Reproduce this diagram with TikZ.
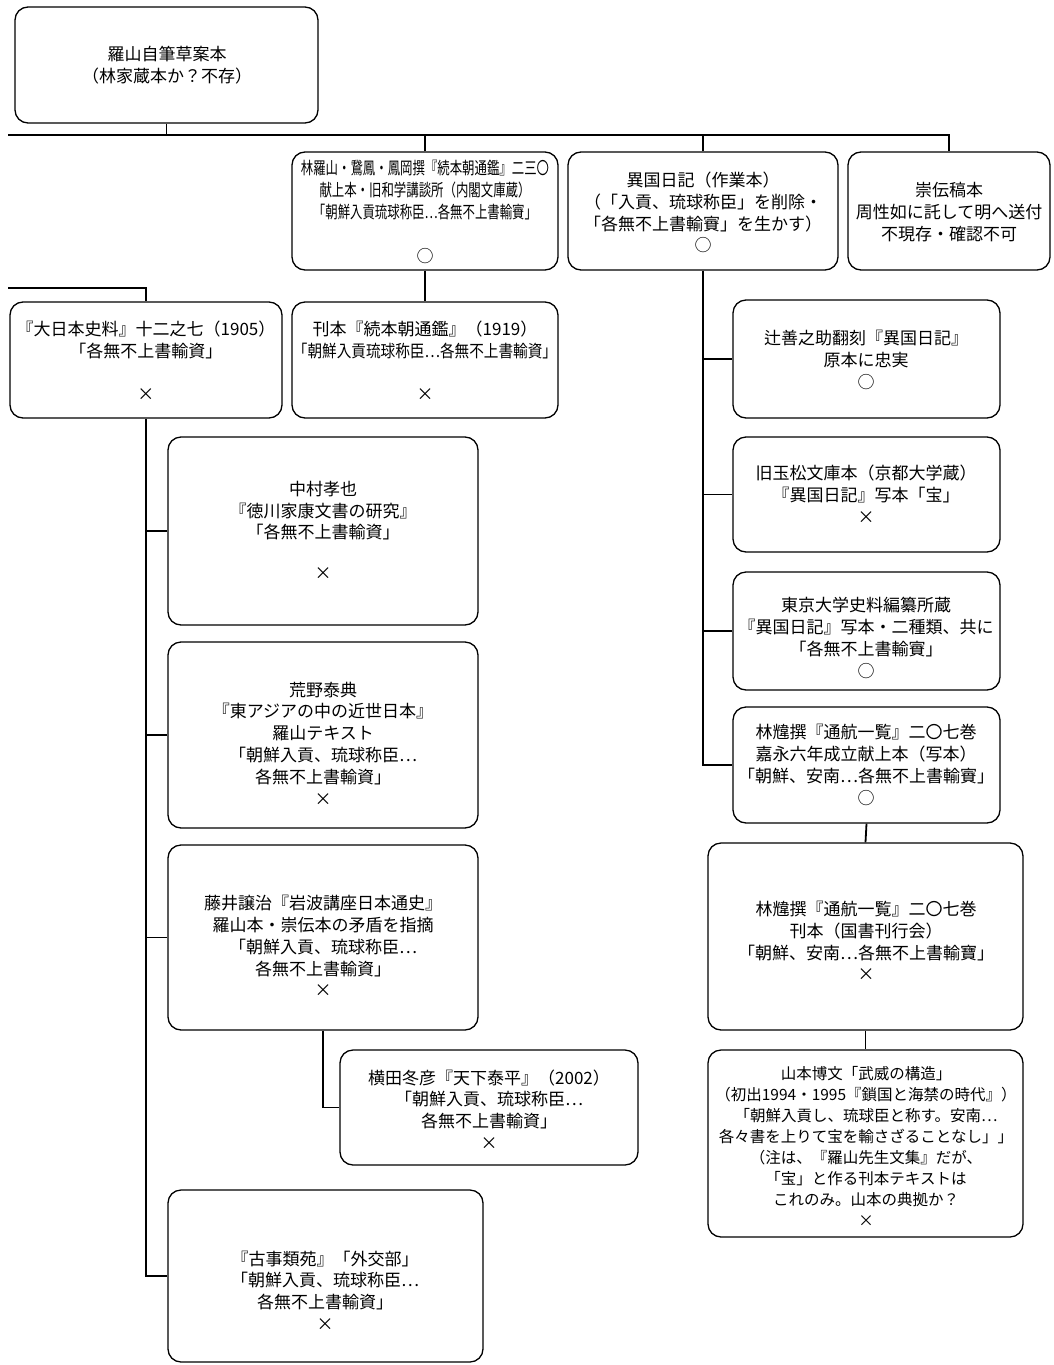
\documentclass[tikz,border=0pt]{standalone}
\usepackage{fontspec}
\setmainfont{Noto Sans CJK JP}
\newfontfamily\jpnarrow[FakeStretch=0.73]{Noto Sans CJK JP}
\newfontfamily\jpslim[FakeStretch=0.86]{Noto Sans CJK JP}
\newcommand\jbox[5]{\node[box, minimum width={(#4-#2)*1pt}, minimum height={(#5-#3)*1pt}] (#1) at ({(#2+#4)/2},{(#3+#5)/2}) {};}
\begin{document}
\begin{tikzpicture}[x=1pt,y=-1pt,
  box/.style={draw, line width=1.3pt, rounded corners=13pt, inner sep=0pt},
  txt/.style={align=center, inner sep=0pt, font=\fontsize{17}{21.8}\selectfont},
  small/.style={font=\fontsize{15.5}{21}\selectfont},
  link/.style={line width=1.8pt}]
\useasboundingbox (0,0) rectangle (1053,1365);

% boxes
\jbox{root}{15}{7}{318}{123}
\jbox{razan}{292}{152}{558}{270}
\jbox{ikoku}{568}{152}{838}{270}
\jbox{suden}{848}{152}{1050}{270}
\jbox{dainihon}{10}{302}{282}{418}
\jbox{kanpon}{292}{302}{558}{418}
\jbox{tsuji}{733}{300}{1000}{418}
\jbox{gyoku}{733}{437}{1000}{552}
\jbox{todai}{733}{572}{1000}{690}
\jbox{hayA}{733}{707}{1000}{823}
\jbox{hayB}{708}{843}{1023}{1030}
\jbox{yama}{708}{1050}{1023}{1237}
\jbox{naka}{168}{437}{478}{625}
\jbox{arano}{168}{642}{478}{828}
\jbox{fujii}{168}{845}{478}{1030}
\jbox{yoko}{340}{1050}{638}{1165}
\jbox{koji}{168}{1190}{483}{1362}

% texts
\node[txt] (troot) at (167,65) {羅山自筆草案本\\（林家蔵本か？不存）};
\node[txt] (trazan) at (425,212) {{\jpnarrow 林羅山・鵞鳳・鳳岡撰『続本朝通鑑』二三〇}\\{\jpnarrow 献上本・旧和学講談所（内閣文庫蔵）}\\{\jpnarrow 「朝鮮入貢琉球称臣…各無不上書輸賨」}\\[22.2pt]○};
\node[txt] (tikoku) at (703,212.5) {異国日記（作業本）\\（「入貢、琉球称臣」を削除・\\「各無不上書輸賨」を生かす）\\○};
\node[txt] (tsuden) at (949,212) {崇伝稿本\\周性如に託して明へ送付\\不現存・確認不可};
\node[txt] (tdainihon) at (146,360.5) {『大日本史料』十二之七（1905）\\「各無不上書輸資」\\[21.5pt]×};
\node[txt] (tkanpon) at (425,360.5) {刊本『続本朝通鑑』（1919）\\{\jpslim 「朝鮮入貢琉球称臣…各無不上書輸資」}\\[21.5pt]×};
\node[txt] (ttsuji) at (866,360) {辻善之助翻刻『異国日記』\\原本に忠実\\○};
\node[txt] (tgyoku) at (866,494) {旧玉松文庫本（京都大学蔵）\\『異国日記』写本「宝」\\×};
\node[txt] (ttodai) at (866,638) {東京大学史料編纂所蔵\\『異国日記』写本・二種類、共に\\「各無不上書輸賨」\\○};
\node[txt] (thayA) at (866,765) {林韑撰『通航一覧』二〇七巻\\嘉永六年成立献上本（写本）\\「朝鮮、安南…各無不上書輸賨」\\○};
\node[txt] (thayB) at (866,941) {林韑撰『通航一覧』二〇七巻\\刊本（国書刊行会）\\「朝鮮、安南…各無不上書輸寶」\\×};
\node[txt,small] (tyama) at (866,1146) {山本博文「武威の構造」\\（初出1994・1995『鎖国と海禁の時代』）\\「朝鮮入貢し、琉球臣と称す。安南…\\各々書を上りて宝を輸さざることなし」」\\（注は、『羅山先生文集』だが、\\「宝」と作る刊本テキストは\\これのみ。山本の典拠か？\\×};
\node[txt] (tnaka) at (323,530.5) {中村孝也\\『徳川家康文書の研究』\\「各無不上書輸資」\\[19.2pt]×};
\node[txt] (tarano) at (323,743.5) {荒野泰典\\『東アジアの中の近世日本』\\羅山テキスト\\「朝鮮入貢、琉球称臣…\\各無不上書輸資」\\×};
\node[txt] (tfujii) at (323,946) {藤井譲治『岩波講座日本通史』\\羅山本・崇伝本の矛盾を指摘\\「朝鮮入貢、琉球称臣…\\各無不上書輸資」\\×};
\node[txt] (tyoko) at (489,1109.5) {横田冬彦『天下泰平』（2002）\\「朝鮮入貢、琉球称臣…\\各無不上書輸資」\\×};
\node[txt] (tkoji) at (325,1290.5) {『古事類苑』「外交部」\\「朝鮮入貢、琉球称臣…\\各無不上書輸資」\\×};

% connectors
\coordinate (L0) at (8,135);
\coordinate (R0) at (suden.north |- L0);
\coordinate (L1) at (8,288);
\draw[link] (root.south) -- (root.south |- L0);
\draw[link] (L0) -- (R0) -- (suden.north);
\draw[link] (razan.north) -- (razan.north |- L0);
\draw[link] (ikoku.north) -- (ikoku.north |- L0);
\draw[link] (L1) -| (dainihon.north);
\draw[link] (razan.south) -- (kanpon.north);
% left trunk
\draw[link] (dainihon.south) |- (koji.west);
\draw[link] (dainihon.south |- naka.west) -- (naka.west);
\draw[link] (dainihon.south |- arano.west) -- (arano.west);
\draw[link] (dainihon.south |- fujii.west) -- (fujii.west);
\draw[link] (fujii.south) |- (yoko.west);
% right trunk
\draw[link] (ikoku.south) |- (hayA.west);
\draw[link] (ikoku.south |- tsuji.west) -- (tsuji.west);
\draw[link] (ikoku.south |- gyoku.west) -- (gyoku.west);
\draw[link] (ikoku.south |- todai.west) -- (todai.west);
\draw[link] (hayA.south) -- (hayB.north);
\draw[link] (hayB.south) -- (yama.north);
\end{tikzpicture}
\end{document}
